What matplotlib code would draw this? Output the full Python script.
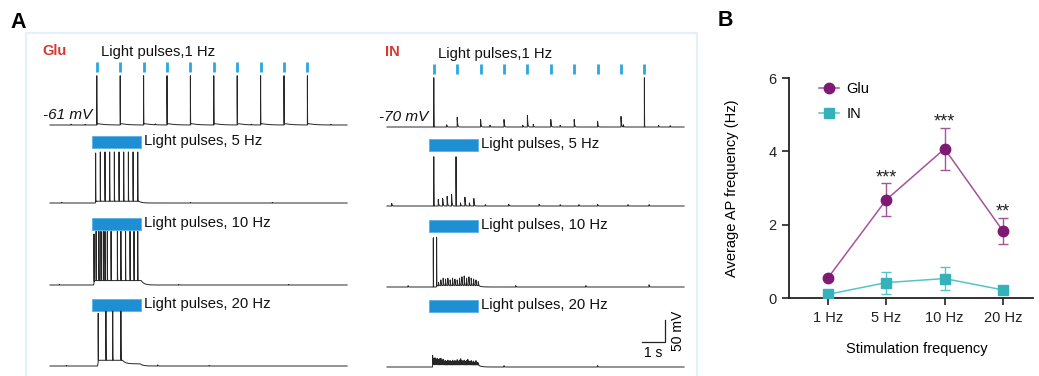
import numpy as np
import matplotlib
matplotlib.use("Agg")
import matplotlib.pyplot as plt
from matplotlib.patches import Rectangle
from matplotlib.lines import Line2D

plt.rcParams['font.family'] = ['Liberation Sans', 'DejaVu Sans']

# ------------------------------------------------------------------ data
# Panel B : average AP frequency (Hz)
stim_labels = ['1 Hz', '5 Hz', '10 Hz', '20 Hz']
glu_mean = [0.55, 2.68, 4.07, 1.83]
glu_sem = [0.05, 0.45, 0.58, 0.36]
in_mean = [0.10, 0.42, 0.53, 0.22]
in_sem = [0.06, 0.30, 0.31, 0.10]
sig_marks = ['', '***', '***', '**']

# Panel A : example traces (times in s from trace start, amplitudes in mV)
trace_duration = 12.7
rest_labels = ['-61 mV', '-70 mV']
cell_names = ['Glu', 'IN']
row_titles = ['Light pulses,1 Hz', 'Light pulses, 5 Hz',
              'Light pulses, 10 Hz', 'Light pulses, 20 Hz']
pulses_1hz = [2.0, 3.0, 4.0, 5.0, 6.0, 7.0, 8.0, 9.0, 10.0, 11.0]
train_on, train_off = 1.78, 3.88
spike_amp = 112.0

# Glu cell
glu_spikes = [
    [2.0, 3.0, 4.0, 5.0, 6.0, 7.0, 8.0, 9.0, 10.0, 11.0],
    [1.95, 2.15, 2.35, 2.55, 2.75, 2.95, 3.15, 3.35, 3.55, 3.75],
    [1.88, 1.97, 2.09, 2.18, 2.28, 2.35, 2.45, 2.61, 2.88, 3.03,
     3.23, 3.42, 3.59, 3.75],
    [2.06, 2.39, 2.68, 3.03],
]
glu_plateaus = [
    [],
    [(1.93, 3.8, 4.0)],
    [(1.86, 3.9, 10.0)],
    [(2.03, 3.1, 8.0), (2.03, 3.85, 5.0)],
]
glu_adp = [4.0, 0.0, 0.0, 0.0]
glu_events = [
    [(0.9, 2.0), (1.5, 1.5), (4.5, 2.0), (8.6, 1.5), (12.0, 1.5)],
    [(0.5, 1.5), (6.0, 1.0), (9.5, 1.0)],
    [(0.4, 1.5), (5.5, 1.0), (10.2, 1.0)],
    [(0.7, 1.0), (4.6, 2.5), (6.8, 1.0)],
]

# IN cell
in_spikes = [
    [2.0, 11.0],
    [2.0, 2.95],
    [1.98, 2.12],
    [],
]
in_events = [
    [(3.0, 22), (4.0, 17), (5.0, 17), (6.0, 26), (7.0, 17), (8.0, 17),
     (9.0, 13), (10.0, 24), (2.55, 5), (4.4, 4), (5.8, 4), (6.25, 6),
     (7.4, 4), (10.1, 5), (11.6, 4), (12.1, 3)],
    [(2.19, 15), (2.38, 17), (2.57, 22), (2.76, 26), (3.14, 7), (3.33, 20),
     (3.52, 7), (3.71, 17), (0.2, 6), (4.2, 3), (5.2, 4), (6.5, 4),
     (7.4, 3), (8.2, 3), (9.0, 4), (10.3, 3), (11.2, 3)],
    [(2.2, 7), (2.3, 13), (2.4, 17), (2.5, 15), (2.6, 17), (2.7, 13),
     (2.8, 17), (2.9, 15), (3.0, 13), (3.1, 17), (3.2, 20), (3.3, 22),
     (3.4, 17), (3.5, 20), (3.6, 17), (3.7, 15), (3.8, 13), (3.9, 9),
     (0.9, 3), (5.5, 3), (8.5, 3), (11.2, 5)],
    [(1.95, 26), (2.0, 14), (2.05, 16), (2.1, 13), (2.15, 15), (2.2, 12),
     (2.25, 14), (2.3, 15), (2.35, 11), (2.4, 13), (2.45, 9), (2.5, 10),
     (2.55, 8), (2.6, 11), (2.65, 9), (2.7, 10), (2.75, 8), (2.8, 11),
     (2.85, 9), (2.9, 10), (2.95, 9), (3.0, 12), (3.05, 9), (3.1, 11),
     (3.15, 14), (3.2, 10), (3.25, 9), (3.3, 11), (3.35, 8), (3.4, 10),
     (3.45, 13), (3.5, 9), (3.55, 8), (3.6, 10), (3.65, 7), (3.7, 9),
     (3.75, 6), (3.8, 10), (3.85, 6), (3.9, 5), (5.0, 3), (9.0, 3)],
]
in_plateaus = [[], [], [(2.1, 3.9, 3.0)], [(1.95, 3.9, 4.0)]]

# ------------------------------------------------------------------ layout
W, H, DPI = 1039, 376, 100
PXS = 23.4      # px per second
PXM = 0.44      # px per mV
X0, Y0 = 50.0, 125.0   # pixel of t=0 / 0 mV reference
col_px = [50.0, 387.0]
base_px = [[125, 203, 285, 366], [127, 206, 287, 367]]

fig = plt.figure(figsize=(W / DPI, H / DPI), dpi=DPI)
fig.patch.set_facecolor('white')


def X(px):
    return (px - X0) / PXS


def Y(px):
    return (Y0 - px) / PXM


axA = fig.add_axes([0, 0, 1, 1])
axA.set_xlim(X(0), X(W))
axA.set_ylim(Y(H), Y(0))
axA.axis('off')

# panel box
fig.patches.append(Rectangle((26 / W, -0.05), (697 - 26) / W, 1.05 - 33 / H,
                             transform=fig.transFigure, fill=False,
                             edgecolor='#e3eff9', linewidth=1.6))
fig.text(10 / W, 1 - 22 / H, 'A', fontsize=15.5, fontweight='bold', va='center')
fig.text(718 / W, 1 - 21 / H, 'B', fontsize=15.5, fontweight='bold', va='center')

dt = 0.002
t = np.arange(0, trace_duration, dt)


def build(spikes, events, plateaus, adp):
    v = np.zeros_like(t)
    for a, b, amp in plateaus:
        on = (t >= a) & (t <= b)
        v += np.where(on, amp * np.clip((t - a) / 0.05, 0, 1), 0.0)
        v += np.where(t > b, amp * np.exp(-(t - b) / 0.12), 0.0)
    for ts in spikes:
        i = int(round(ts / dt))
        d = t[i:] - t[i]
        v[i:] += spike_amp * np.exp(-d / 0.003)
        if adp:
            v[i:] += adp * np.exp(-d / 0.25) * (1 - np.exp(-d / 0.03))
    for ts, amp in events:
        i = int(round(ts / dt))
        d = t[i:] - t[i]
        v[i:] += amp * np.exp(-d / 0.018)
    return v


TRACE_C = '#262626'
BLUE = '#1f8fd4'
TICK_BLUE = '#2aa7e2'
RED = '#d8372d'

cells = [(glu_spikes, glu_events, glu_plateaus, glu_adp),
         (in_spikes, in_events, in_plateaus, [0, 0, 0, 0])]

for c, (sp, ev, pl, adp) in enumerate(cells):
    toff = X(col_px[c])
    for r in range(4):
        yb = Y(base_px[c][r])
        v = build(sp[r], ev[r], pl[r], adp[r])
        axA.plot(t + toff, v + yb, color=TRACE_C, lw=0.7)
        if r == 0:
            for p in pulses_1hz:
                axA.plot([p + toff, p + toff], [yb + 53 / PXM, yb + 63 / PXM],
                         color=TICK_BLUE, lw=2.0, solid_capstyle='butt')
            axA.text(2.2 + toff, yb + 73 / PXM, row_titles[r], fontsize=10.7,
                     va='center', ha='left', color='#111111')
        else:
            axA.add_patch(Rectangle((train_on + toff, yb + 55 / PXM),
                                    train_off - train_on, 12 / PXM,
                                    facecolor=BLUE, edgecolor='#5ab0e6',
                                    linewidth=0.6))
            axA.text(train_off + 0.14 + toff, yb + 62 / PXM, row_titles[r],
                     fontsize=10.7, va='center', ha='left', color='#111111')

# cell names and resting potentials
axA.text(X(42), Y(51), cell_names[0], color=RED, fontsize=10.5,
         fontweight='bold', va='center', ha='left')
axA.text(X(385), Y(52), cell_names[1], color=RED, fontsize=10.5,
         fontweight='bold', va='center', ha='left')
axA.text(X(43), Y(115), rest_labels[0], fontsize=11, style='italic',
         va='center', ha='left', color='#111111')
axA.text(X(379), Y(117), rest_labels[1], fontsize=11, style='italic',
         va='center', ha='left', color='#111111')

# scale bar (1 s, 50 mV)
sx, sy = X(665), Y(342)
axA.plot([sx - 1.0, sx, sx], [sy, sy, sy + 50], color='#222222', lw=0.9,
         solid_joinstyle='miter')
axA.text(sx - 0.5, sy - 4 / PXM, '1 s', fontsize=10, ha='center', va='top')
axA.text(sx + 6 / PXS, sy + 25, '50 mV', fontsize=10, rotation=90,
         ha='left', va='center')

# ------------------------------------------------------------------ panel B
axB = fig.add_axes([789 / W, (H - 298) / H, 244 / W, 220 / H])
xs = np.arange(len(stim_labels))
GLU_LINE, GLU_MK = '#a5549c', '#7e1a74'
IN_LINE, IN_MK = '#55c4ca', '#33b2ba'

axB.errorbar(xs, in_mean, yerr=in_sem, color=IN_LINE, lw=1.1, capsize=3.5,
             capthick=1.0, elinewidth=1.0, marker='s', markersize=6.5,
             markerfacecolor=IN_MK, markeredgecolor=IN_MK, zorder=3)
axB.errorbar(xs, glu_mean, yerr=glu_sem, color=GLU_LINE, lw=1.1, capsize=3.5,
             capthick=1.0, elinewidth=1.0, marker='o', markersize=7.5,
             markerfacecolor=GLU_MK, markeredgecolor=GLU_MK, zorder=4)
for x, m, s, lab in zip(xs, glu_mean, glu_sem, sig_marks):
    if lab:
        axB.text(x, m + s + 0.02, lab, ha='center', va='baseline',
                 fontsize=13, color='#222222')

axB.set_xlim(-39 / 58.3, (1033 - 828) / 58.3)
axB.set_ylim(0, 6)
axB.set_yticks([0, 2, 4, 6])
axB.set_xticks(xs)
axB.set_xticklabels(stim_labels)
for side in ['top', 'right']:
    axB.spines[side].set_visible(False)
for side in ['left', 'bottom']:
    axB.spines[side].set_linewidth(1.3)
    axB.spines[side].set_color('#222222')
axB.tick_params(axis='both', direction='out', length=5, width=1.2,
                labelsize=10.5, colors='#222222', pad=4)
axB.set_ylabel('Average AP frequency (Hz)', fontsize=10.5)
axB.yaxis.set_label_coords(-0.205, 0.5)
axB.set_xlabel('Stimulation frequency', fontsize=10.5)
axB.xaxis.set_label_coords(0.525, -0.2)

handles = [
    Line2D([], [], color=GLU_LINE, lw=1.1, marker='o', markersize=7.5,
           markerfacecolor=GLU_MK, markeredgecolor=GLU_MK),
    Line2D([], [], color=IN_LINE, lw=1.1, marker='s', markersize=6.5,
           markerfacecolor=IN_MK, markeredgecolor=IN_MK),
]
axB.legend(handles, ['Glu', 'IN'], loc='upper left',
           bbox_to_anchor=((819 - 789) / 244, (298 - 82) / 220),
           frameon=False, fontsize=10.5, handlelength=1.35,
           handletextpad=0.55, labelspacing=0.78, borderpad=0,
           borderaxespad=0)

fig.savefig('out.png', dpi=DPI, facecolor='white')
